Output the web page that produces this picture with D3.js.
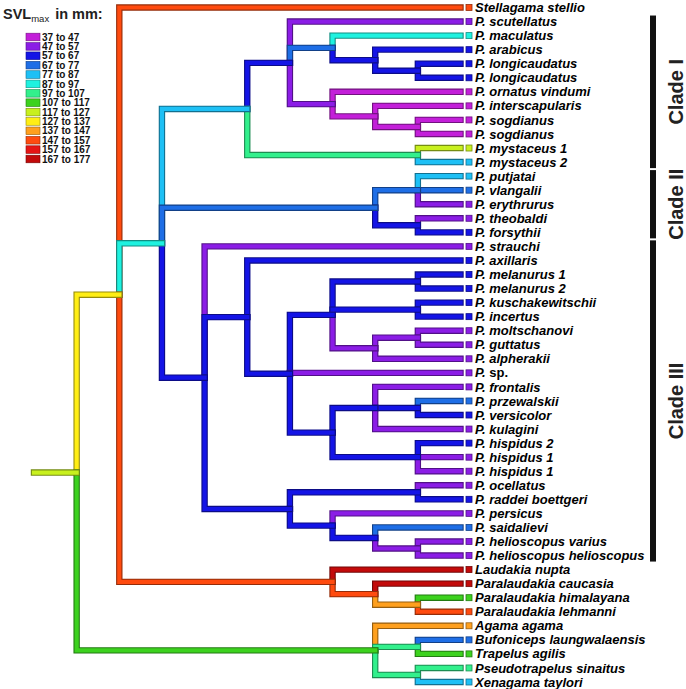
<!DOCTYPE html>
<html><head><meta charset="utf-8">
<script src="https://cdn.jsdelivr.net/npm/d3@7/dist/d3.min.js"></script>
<style>body{margin:0;background:#fff} text{font-family:"Liberation Sans",Arial,sans-serif}</style>
</head><body>
<svg id="chart" width="686" height="689"></svg>
<script>
const binLabels = ["37 to 47","47 to 57","57 to 67","67 to 77","77 to 87","87 to 97","97 to 107","107 to 117","117 to 127","127 to 137","137 to 147","147 to 157","157 to 167","167 to 177"];
const binColors = ["#c31fd9","#8b1de6","#1414e6","#1e6ee6","#1ec0f5","#1ef2e0","#32f08c","#3cd21e","#c8f01e","#ffee14","#ffa01e","#ff4b0f","#e61414","#c30a0a"];
const tipNames = ["Stellagama stellio","P. scutellatus","P. maculatus","P. arabicus","P. longicaudatus","P. longicaudatus","P. ornatus vindumi","P. interscapularis","P. sogdianus","P. sogdianus","P. mystaceus 1","P. mystaceus 2","P. putjatai","P. vlangalii","P. erythrurus","P. theobaldi","P. forsythii","P. strauchi","P. axillaris","P. melanurus 1","P. melanurus 2","P. kuschakewitschii","P. incertus","P. moltschanovi","P. guttatus","P. alpherakii","P. sp.","P. frontalis","P. przewalskii","P. versicolor","P. kulagini","P. hispidus 2","P. hispidus 1","P. hispidus 1","P. ocellatus","P. raddei boettgeri","P. persicus","P. saidalievi","P. helioscopus varius","P. helioscopus helioscopus","Laudakia nupta","Paralaudakia caucasia","Paralaudakia himalayana","Paralaudakia lehmanni","Agama agama","Bufoniceps laungwalaensis","Trapelus agilis","Pseudotrapelus sinaitus","Xenagama taylori"];
const tipBins = [11,1,5,2,2,2,0,0,0,0,8,4,4,3,1,1,2,1,2,2,2,2,2,1,1,1,1,1,3,2,1,2,1,1,1,2,1,3,1,1,13,13,7,11,10,3,7,6,4];
// topology: tips are indices into tipNames; internal nodes annotated "depthLevel:binOfIncomingEdge"
const topology = "((0,(((1,(2,(3,(4,5)9:2)8:2)7:3,(6,(7,(8,9)9:0)8:0)7:1)6:2,(10,11)9:6)5:4,((12,13,14)9:3,(15,16)9:2)8:3,(17,(18,(((19,20)9:2,(21,22)9:2,((23,24)9:1,25)8:1)7:2,26,((27,(28,29)9:2,30)8:2,(31,32,33)9:2)7:2)6:2)5:2,((34,35)9:2,(36,(37,(38,39)9:1)8:2)7:2)6:2)4:2)3:5,(40,(41,(42,43)9:10)8:11)7:11)2:9,(44,(45,46)9:6,(47,48)9:6)8:7)1:8";
const cladeNames = ["Clade I","Clade II","Clade III"];
const cladeFirstTip = [1,12,17];
const cladeLastTip = [11,16,39];

function parseTree(s){
  let i=0;
  function node(){
    if(s[i]==='('){
      i++; const ch=[node()];
      while(s[i]===','){i++; ch.push(node());}
      i++;
      const m=/^(\d+):(\d+)/.exec(s.slice(i)); i+=m[0].length;
      return {children:ch, level:+m[1], bin:+m[2]};
    } else {
      const m=/^\d+/.exec(s.slice(i)); i+=m[0].length;
      const t=+m[0];
      return {tip:t, level:10, bin:tipBins[t]};
    }
  }
  return node();
}

const svg = d3.select("#chart");
const x = d3.scaleLinear().domain([0,10]).range([34,460.5]);
const y = d3.scaleLinear().domain([0,tipNames.length-1]).range([7.5,682]);
const col = d3.scaleOrdinal().domain(d3.range(binColors.length)).range(binColors);
const dark = b => d3.color(col(b)).darker(1.5).formatHex();

const root = d3.hierarchy(parseTree(topology));
root.eachAfter(n=>{
  if(n.children) n.y = (n.children[0].y + n.children[n.children.length-1].y)/2;
  else n.y = y(n.data.tip);
  n.x = x(n.data.level);
});

const gTree = svg.append("g");
function seg(d, b){
  gTree.append("path").attr("d",d).attr("fill","none").attr("stroke",dark(b))
    .attr("stroke-width",6.4).attr("stroke-linecap","square");
  gTree.append("path").attr("d",d).attr("fill","none").attr("stroke",col(b))
    .attr("stroke-width",4.2).attr("stroke-linecap","square");
}
function draw(n){
  if(!n.children) return;
  n.children.forEach(c=>{
    draw(c);
    seg(`M${n.x},${n.y}V${c.y}H${c.x}`, c.data.bin);
  });
}
draw(root);
seg(`M${x(0)},${root.y}H${root.x}`, root.data.bin);

// tip squares and labels
const tips = root.leaves();
svg.append("g").selectAll("rect").data(tips).join("rect")
  .attr("x", d=>d.x+5.5).attr("y", d=>d.y-3).attr("width",6).attr("height",6)
  .attr("fill", d=>col(d.data.bin)).attr("stroke", d=>dark(d.data.bin)).attr("stroke-width",0.8);
const lab = svg.append("g").selectAll("text").data(tips).join("text")
  .attr("x", d=>d.x+14.5).attr("y", d=>d.y+4.6)
  .attr("font-size",13).attr("font-weight","bold").attr("fill","#000");
lab.each(function(d){
  const name = tipNames[d.data.tip];
  const t = d3.select(this);
  if(name==="P. sp."){
    t.append("tspan").attr("font-style","italic").text("P.");
    t.append("tspan").text(" sp.");
  } else t.append("tspan").attr("font-style","italic").text(name);
});

// clade bars
cladeNames.forEach((nm,i)=>{
  const y0 = y(cladeFirstTip[i]-0.5)+1, y1 = y(cladeLastTip[i]+0.5)-1;
  svg.append("rect").attr("x",650).attr("y",y0).attr("width",6).attr("height",y1-y0).attr("fill","#111");
  const cy=(y0+y1)/2;
  svg.append("text").attr("transform",`translate(683,${cy}) rotate(-90)`).attr("text-anchor","middle")
    .attr("font-size",20).attr("font-weight","bold").attr("fill","#222").text(nm);
});

// legend
const title = svg.append("text").attr("x",3).attr("y",19).attr("font-weight","bold").attr("fill","#222");
title.append("tspan").attr("font-size",14.5).text("SVL");
title.append("tspan").attr("font-size",9.5).attr("font-weight","normal").attr("dy",2.5).text("max");
title.append("tspan").attr("font-size",14.5).attr("dy",-2.5).attr("dx",6).text("in mm:");
const leg = svg.append("g");
const ly = d3.scaleLinear().domain([0,binLabels.length-1]).range([37,159]);
leg.selectAll("rect").data(binLabels).join("rect")
  .attr("x",26).attr("y",(d,i)=>ly(i)-3.8).attr("width",14).attr("height",7.6)
  .attr("fill",(d,i)=>col(i)).attr("stroke",(d,i)=>dark(i)).attr("stroke-width",0.6);
leg.selectAll("text").data(binLabels).join("text")
  .attr("x",42).attr("y",(d,i)=>ly(i)+3.6).attr("font-size",10).attr("font-weight","bold").attr("fill","#111").text(d=>d);
</script>
</body></html>
